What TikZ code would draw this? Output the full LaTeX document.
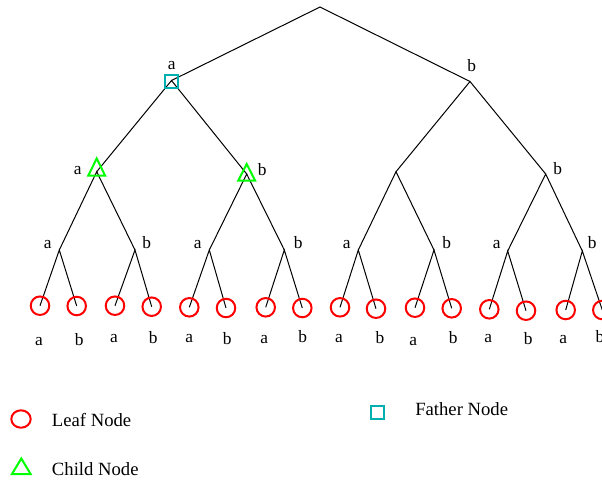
\documentclass[tikz,border=0pt]{standalone}
\usepackage{fontspec}
\setmainfont{Liberation Serif}
\definecolor{leafred}{RGB}{255,0,0}
\definecolor{childgreen}{RGB}{0,255,0}
\definecolor{fathercyan}{RGB}{0,176,176}
\begin{document}
\begin{tikzpicture}[x=0.75pt,y=-0.75pt,
  edge/.style={draw=black, line width=0.75pt},
  leaf/.style={circle, draw=leafred, line width=1.5pt, minimum size=13.9pt, inner sep=0pt},
  father/.style={rectangle, draw=fathercyan, line width=1.5pt, minimum size=9.75pt, inner sep=0pt},
  childtri/.style={draw=childgreen, line width=1.5pt, line join=miter},
  lbl/.style={anchor=base, inner sep=0pt, font=\fontsize{13}{15}\selectfont},
  legtext/.style={anchor=base west, inner sep=0pt, font=\fontsize{14}{16}\selectfont}]
\useasboundingbox (0,0) rectangle (602,483);

% ---- tree vertices ----
\coordinate (R) at (320,7);
\coordinate (A) at (171.5,80.5);
\coordinate (B) at (470,81.5);
\coordinate (N1) at (96.7,171.7);
\coordinate (N2) at (246.7,174);
\coordinate (N3) at (396,171.7);
\coordinate (N4) at (545.7,174);
\foreach \i/\x/\y in {1/59.3/250, 2/135/250, 3/209.3/250, 4/284.3/250,
                      5/358.3/250, 6/434/250, 7/507.7/251, 8/582.3/251}
  \coordinate (M\i) at (\x,\y);
\foreach \i/\x/\y in {1/40/305.7, 2/76.7/306, 3/115/305.7, 4/151.7/306.7,
                      5/189.3/307.3, 6/226/308, 7/265.7/307.3, 8/302.3/308,
                      9/340/307.3, 10/376/308.7, 11/415/307.7, 12/451.7/308.3,
                      13/489.3/309.3, 14/526/310.7, 15/565.7/310, 16/602.3/310}
  \coordinate (L\i) at (\x,\y);

% ---- connectors ----
\draw[edge] (A) -- (R) -- (B);
\draw[edge] (N1) -- (A) -- (N2);
\draw[edge] (N3) -- (B) -- (N4);
\draw[edge] (M1) -- (N1) -- (M2);
\draw[edge] (M3) -- (N2) -- (M4);
\draw[edge] (M5) -- (N3) -- (M6);
\draw[edge] (M7) -- (N4) -- (M8);
\foreach \m in {1,...,8} {
  \pgfmathtruncatemacro\lft{2*\m-1}
  \pgfmathtruncatemacro\rgt{2*\m}
  \draw[edge] (L\lft) -- (M\m) -- (L\rgt);
}

% ---- markers ----
\node[father] (Fa) at (171,81.7) {};
\coordinate (T1) at (96.7,167);
\coordinate (T2) at (246.7,172.3);
\draw[childtri, shift={(T1)}] (0,-8.5) -- (8.5,8.7) -- (-8.5,8.7) -- cycle;
\draw[childtri, shift={(T2)}] (0,-8.3) -- (8.5,8.4) -- (-8.5,8.4) -- cycle;
\foreach \i in {1,...,16}
  \node[leaf] (C\i) at (L\i) {};

% ---- branch labels ----
\node[lbl] (la) at (171.7,69) {a};
\node[lbl] (lb) at (471.7,71) {b};
\node[lbl] (l1) at (77.7,174) {a};
\node[lbl] (l2) at (262.3,175) {b};
\node[lbl] (l4) at (557.7,174) {b};
\foreach \i/\x/\t in {1/47.7/a, 2/146.7/b, 3/197.7/a, 4/298.3/b,
                      5/346.7/a, 6/446.7/b, 7/496.7/a, 8/592.3/b}
  \node[lbl] (m\i) at (\x,248.5) {\t};
\foreach \i/\x/\y/\t in {1/39/345.5/a, 2/79.3/345.5/b, 3/114/342.5/a, 4/153.3/343.5/b,
                         5/189.3/342.5/a, 6/227.3/344.5/b, 7/264.3/343.5/a, 8/302.7/342.5/b,
                         9/339/342.5/a, 10/380/343.5/b, 11/413.3/345.5/a, 12/453.3/343.5/b,
                         13/488.3/342.5/a, 14/528.3/344.5/b, 15/563.3/343.5/a, 16/600/342.5/b}
  \node[lbl] (t\i) at (\x,\y) {\t};

% ---- legend ----
\draw[draw=leafred, line width=1.5pt] (21,419) ellipse [x radius=9.7, y radius=8.7];
\node[legtext] (leafkey) at (51.7,426.7) {Leaf Node};
\coordinate (T3) at (21.3,466.5);
\draw[childtri, shift={(T3)}] (0,-8) -- (9.3,7.5) -- (-9.3,7.5) -- cycle;
\node[legtext] (childkey) at (51.7,475) {Child Node};
\node[father] (Fk) at (377.5,412) {};
\node[legtext] (fatherkey) at (415,415.7) {Father Node};
\end{tikzpicture}
\end{document}
